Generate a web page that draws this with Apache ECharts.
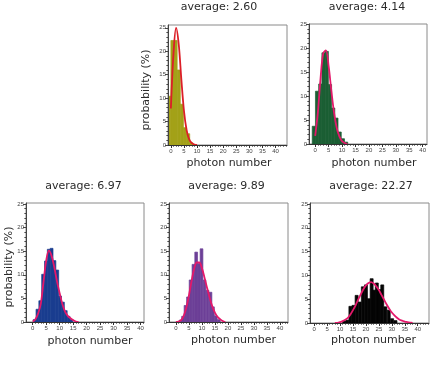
<!DOCTYPE html>
<html><head><meta charset="utf-8">
<script src="https://cdn.jsdelivr.net/npm/echarts@6/dist/echarts.min.js"></script>
<style>html,body{margin:0;padding:0;background:#fff}#c{width:430px;height:366px}</style>
</head><body><div id="c"></div>
<script>
// ---------- data ----------
const titles = ['average: 2.60', 'average: 4.14', 'average: 6.97', 'average: 9.89', 'average: 22.27'];
const xTitle = 'photon number';
const yTitle = 'probability (%)';
const xTickLabels = [0, 5, 10, 15, 20, 25, 30, 35, 40];
const yTickLabels = [0, 5, 10, 15, 20, 25];
const xMinorTicks = [0,1,2,3,4,5,6,7,8,9,10,11,12,13,14,15,16,17,18,19,20,21,22,23,24,25,26,27,28,29,30,31,32,33,34,35,36,37,38,39,40,41,42,43,44];
const yMinorTicks = [0,1,2,3,4,5,6,7,8,9,10,11,12,13,14,15,16,17,18,19,20,21,22,23,24,25];

// panel 1 (average 2.60)
const bins1 = [-0.6, 0.6, 1.8, 3.0, 4.2, 5.4, 6.6, 7.8];
const hist1 = [10.4, 22.3, 22.3, 16.0, 8.7, 3.7, 2.4, 0.5];
const fitX1 = [0, 1, 2, 3, 4, 5, 6, 7, 8, 9, 10];
const fit1  = [7.8, 19.5, 25.0, 21.5, 14.0, 7.3, 3.2, 1.2, 0.4, 0.1, 0.0];
const binWidth1 = 1.2;

// panel 2 (average 4.14)
const bins2 = [-0.5, 0.7, 1.9, 3.1, 4.3, 5.5, 6.7, 7.9, 9.1, 10.3, 11.5];
const hist2 = [3.7, 11.0, 12.5, 19.0, 19.3, 12.4, 7.5, 5.4, 2.5, 1.1, 0.4];
const fitX2 = [0, 1, 2, 3, 4, 5, 6, 7, 8, 9, 10, 11, 12];
const fit2  = [1.7, 6.6, 13.7, 18.9, 19.5, 16.2, 11.2, 6.6, 3.4, 1.6, 0.6, 0.2, 0.0];
const binWidth2 = 1.2;

// panel 3 (average 6.97)
const bins3 = [0.7, 1.75, 2.8, 3.85, 4.9, 5.95, 7.0, 8.05, 9.1, 10.15, 11.2, 12.25, 13.3, 14.35];
const hist3 = [0.5, 2.7, 4.5, 10.1, 12.9, 15.4, 15.6, 13.0, 11.0, 5.5, 4.2, 2.4, 1.2, 0.5];
const fitX3 = [0, 1, 2, 3, 4, 5, 6, 7, 8, 9, 10, 11, 12, 13, 14, 15, 16, 17];
const fit3  = [0.1, 0.6, 1.8, 3.9, 8.5, 13.0, 15.1, 14.0, 11.6, 8.6, 6.1, 3.8, 2.2, 1.3, 0.8, 0.4, 0.1, 0.0];
const binWidth3 = 1.05;

// panel 4 (average 9.89)
const bins4 = [1.8, 2.75, 3.7, 4.65, 5.65, 6.75, 7.8, 8.75, 9.85, 11.0, 12.15, 13.3, 14.25, 15.35, 16.5];
const hist4 = [0.4, 1.2, 3.5, 5.3, 8.9, 12.2, 14.8, 12.4, 15.5, 8.9, 6.7, 6.3, 3.2, 1.3, 0.5];
const fitX4 = [0, 1, 2, 3, 4, 5, 6, 7, 8, 9, 10, 11, 12, 13, 14, 15, 16, 17, 18, 19];
const fit4  = [0.0, 0.1, 0.4, 1.3, 3.0, 5.6, 8.6, 11.2, 12.6, 12.6, 11.4, 9.4, 7.2, 5.1, 3.3, 2.0, 1.1, 0.6, 0.2, 0.0];
const binWidth4 = 1.05;

// panel 5 (average 22.27)
const bins5 = [11.6, 12.8, 14.0, 15.2, 16.4, 17.6, 18.8, 20.0, 21.1, 22.2, 23.2, 24.2, 25.2, 26.3, 27.5, 28.8, 30.1, 31.4];
const hist5 = [0.4, 0.6, 3.5, 3.7, 5.8, 4.4, 7.6, 8.0, 5.1, 9.3, 6.9, 8.4, 7.0, 8.0, 3.4, 2.7, 0.9, 0.5];
const fitX5 = [8, 9, 10, 11, 12, 13, 14, 15, 16, 17, 18, 19, 20, 21, 22, 23, 24, 25, 26, 27, 28, 29, 30, 31, 32, 33, 34, 35, 36, 37, 38];
const fit5  = [0.0, 0.05, 0.2, 0.4, 0.7, 1.1, 1.8, 2.7, 3.7, 4.9, 6.0, 7.1, 7.9, 8.4, 8.6, 8.3, 7.7, 6.9, 5.9, 4.9, 3.9, 3.0, 2.2, 1.6, 1.1, 0.7, 0.5, 0.3, 0.2, 0.1, 0.0];
const binWidth5 = 1.15;

// ---------- layout / style ----------
const panels = [
  {bins: bins1, hist: hist1, fx: fitX1, fy: fit1, bw: binWidth1, grid: {left: 168, top: 25, width: 119, height: 120}, xr: [-1.1, 44.4], ymax: 25.6, bar: '#a3a118', line: '#dc1f28',
   title: [219, 7.5], xname: [229, 163.5], yname: [146, 90]},
  {bins: bins2, hist: hist2, fx: fitX2, fy: fit2, bw: binWidth2, grid: {left: 309, top: 24, width: 118, height: 120}, xr: [-2.3, 41.6], ymax: 25, bar: '#1b5e34', line: '#e4186a',
   title: [367, 7.5], xname: [374, 163.5]},
  {bins: bins3, hist: hist3, fx: fitX3, fy: fit3, bw: binWidth3, grid: {left: 26, top: 203, width: 118, height: 119}, xr: [-2.5, 41.3], ymax: 25.2, bar: '#1a3d8f', line: '#e4186a',
   title: [83.5, 186.5], xname: [90, 341.5], yname: [9.5, 267]},
  {bins: bins4, hist: hist4, fx: fitX4, fy: fit4, bw: binWidth4, grid: {left: 169, top: 203, width: 119, height: 119}, xr: [-2.65, 43.1], ymax: 25.2, bar: '#6c3f97', line: '#e4186a',
   title: [226.5, 186.5], xname: [233.5, 340.5]},
  {bins: bins5, hist: hist5, fx: fitX5, fy: fit5, bw: binWidth5, grid: {left: 310, top: 203, width: 119, height: 120}, xr: [-1.6, 44.35], ymax: 25.2, bar: '#050505', line: '#e4186a',
   title: [371, 186.5], xname: [373.5, 340.5]}
];

const tickFont = {fontSize: 6, fontFamily: 'Liberation Sans', color: '#444'};
const grids = [], xAxes = [], yAxes = [], series = [], graphics = [];

panels.forEach((p, i) => {
  grids.push(Object.assign({show: true, borderColor: '#8a8a8a', borderWidth: 1, backgroundColor: '#fff', containLabel: false}, p.grid));
  xAxes.push({type: 'value', gridIndex: i, position: 'bottom', min: p.xr[0], max: p.xr[1], z: 10,
    axisLine: {show: true, onZero: false, lineStyle: {color: '#333', width: 1}},
    axisTick: {show: true, customValues: xTickLabels, length: 3, lineStyle: {color: '#333'}},
    axisLabel: Object.assign({show: true, customValues: xTickLabels, margin: 3}, tickFont),
    splitLine: {show: false}});
  xAxes.push({type: 'value', gridIndex: i, position: 'bottom', min: p.xr[0], max: p.xr[1], z: 10,
    axisLine: {show: false, onZero: false},
    axisTick: {show: true, customValues: xMinorTicks, length: 1.6, lineStyle: {color: '#333'}},
    axisLabel: {show: false}, splitLine: {show: false}});
  yAxes.push({type: 'value', gridIndex: i, position: 'left', min: 0, max: p.ymax, z: 10,
    axisLine: {show: true, onZero: false, lineStyle: {color: '#444', width: 1}},
    axisTick: {show: true, customValues: yTickLabels, length: 3, lineStyle: {color: '#444'}},
    axisLabel: Object.assign({show: true, customValues: yTickLabels, margin: 2}, tickFont),
    splitLine: {show: false}});
  yAxes.push({type: 'value', gridIndex: i, position: 'left', min: 0, max: p.ymax, z: 10,
    axisLine: {show: false, onZero: false},
    axisTick: {show: true, customValues: yMinorTicks, length: 1.6, lineStyle: {color: '#444'}},
    axisLabel: {show: false}, splitLine: {show: false}});

  const bw = p.bw;
  series.push({
    type: 'custom', xAxisIndex: 2 * i, yAxisIndex: 2 * i, z: 2, clip: true,
    data: p.bins.map((c, k) => [c, p.hist[k]]),
    encode: {x: 0, y: 1},
    renderItem: (params, api) => {
      const c = api.value(0), h = api.value(1);
      const a = api.coord([c - bw / 2, h]);
      const b = api.coord([c + bw / 2, 0]);
      return {type: 'rect', shape: {x: a[0], y: a[1], width: b[0] - a[0], height: b[1] - a[1]},
        style: {fill: p.bar, stroke: p.bar, lineWidth: 0.7}};
    },
    silent: true, animation: false
  });
  series.push({
    type: 'line', xAxisIndex: 2 * i, yAxisIndex: 2 * i, z: 4,
    data: p.fx.map((x, k) => [x, p.fy[k]]),
    smooth: 0.35, showSymbol: false, symbol: 'none',
    lineStyle: {color: p.line, width: 1.8}, silent: true, animation: false
  });

  graphics.push({type: 'text', x: p.title[0], y: p.title[1],
    style: {text: titles[i], font: '11px "DejaVu Sans"', fill: '#2b2b2b', textAlign: 'center', textVerticalAlign: 'middle'}});
  graphics.push({type: 'text', x: p.xname[0], y: p.xname[1],
    style: {text: xTitle, font: '11px "DejaVu Sans"', fill: '#2b2b2b', textAlign: 'center', textVerticalAlign: 'middle'}});
  if (p.yname) {
    graphics.push({type: 'text', x: p.yname[0], y: p.yname[1], rotation: Math.PI / 2,
      style: {text: yTitle, font: '11px "DejaVu Sans"', fill: '#2b2b2b', textAlign: 'center', textVerticalAlign: 'middle'}});
  }
});

const chart = echarts.init(document.getElementById('c'), null, {renderer: 'canvas'});
chart.setOption({
  animation: false,
  backgroundColor: '#fff',
  grid: grids, xAxis: xAxes, yAxis: yAxes, series: series,
  graphic: graphics
});
</script></body></html>
